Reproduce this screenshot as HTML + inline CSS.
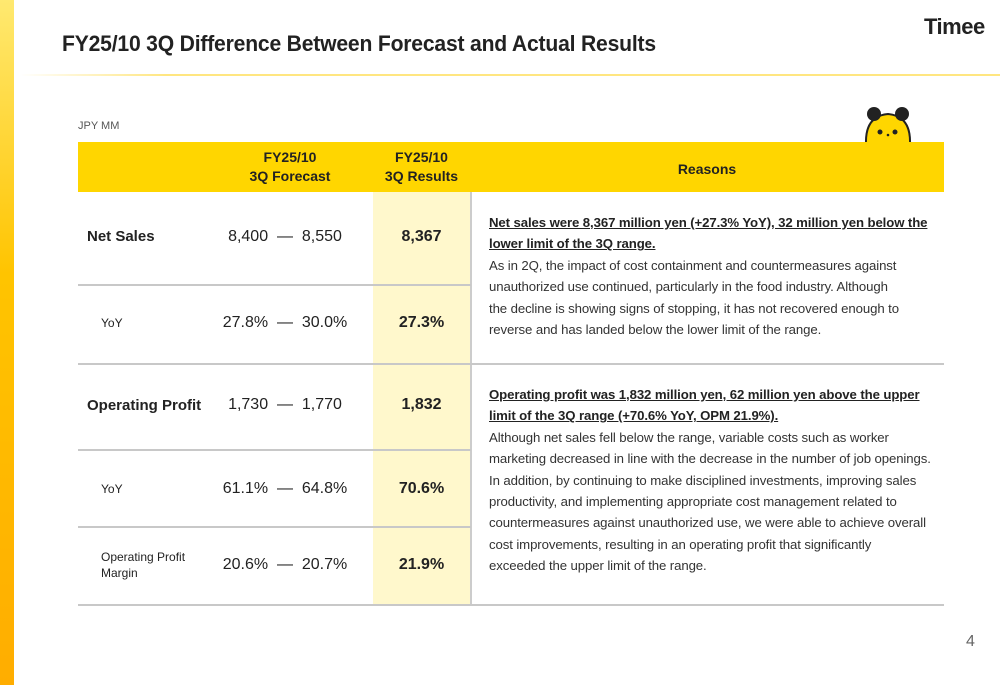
<!DOCTYPE html>
<html><head><meta charset="utf-8">
<style>
*{margin:0;padding:0;box-sizing:border-box}
body{width:1000px;height:685px;overflow:hidden;background:#fff;font-family:"Liberation Sans","DejaVu Sans",sans-serif;color:#222;position:relative}
.abs{position:absolute}
.stripe{left:0;top:0;width:14px;height:685px;background:linear-gradient(#ffe970,#ffc400 40%,#ffad00)}
.title{left:62px;top:31px;font-size:22px;font-weight:bold;color:#222;letter-spacing:-0.2px;white-space:nowrap;transform:scaleX(0.96);transform-origin:left}
.logo{left:924px;top:14px;font-size:22px;font-weight:bold;letter-spacing:-0.5px}
.rule{left:20px;top:74px;width:980px;height:2px;background:linear-gradient(90deg,#fff,#ffe680 15%,#ffe680)}
.unit{left:78px;top:120px;font-size:11px;color:#555}
.head{left:78px;top:142px;width:866px;height:50px;background:#ffd600}
.hc{font-size:14px;font-weight:bold;text-align:center;line-height:19px;top:148px}
.ycol{left:373px;top:192px;width:97px;height:412px;background:#fff8cc}
.vline{left:470px;top:192px;width:1.5px;height:412px;background:#ccc}
.hl{height:1.5px;background:#c8c8c8}
.lab{font-size:15px;font-weight:bold;left:87px}
.sub{font-size:12px;left:101px}
.rng{font-size:16px;left:200px;width:170px;text-align:center;white-space:pre}
.res{font-size:16px;left:373px;width:97px;text-align:center;font-weight:bold}
.rs{left:489px;font-size:13.2px;line-height:21.4px;color:#333;white-space:nowrap;letter-spacing:-0.1px}
.rs u{font-weight:bold;color:#222}
.pg{left:966px;top:633px;font-size:16px;color:#666}
</style></head><body>
<div class="abs stripe"></div>
<div class="abs title">FY25/10 3Q Difference Between Forecast and Actual Results</div>
<div class="abs logo">Timee</div>
<div class="abs rule"></div>
<div class="abs unit">JPY MM</div>
<svg class="abs" style="left:862px;top:104px" width="54" height="40">
<path d="M4 40 Q3 12 26 10 Q49 12 48 40 Z" fill="#ffd600" stroke="#222" stroke-width="2"/>
<circle cx="12" cy="10" r="7" fill="#222"/><circle cx="40" cy="10" r="7" fill="#222"/>
<circle cx="18" cy="28" r="2.5" fill="#222"/><circle cx="33" cy="28" r="2.5" fill="#222"/><circle cx="26" cy="31" r="1.3" fill="#222"/>
</svg>
<div class="abs head"></div>
<div class="abs hc" style="left:230px;width:120px">FY25/10<br>3Q Forecast</div>
<div class="abs hc" style="left:373px;width:97px">FY25/10<br>3Q Results</div>
<div class="abs hc" style="left:470px;width:474px;top:160px">Reasons</div>
<div class="abs ycol"></div>
<div class="abs vline"></div>
<div class="abs hl" style="left:78px;top:284px;width:393px"></div>
<div class="abs hl" style="left:78px;top:363px;width:866px"></div>
<div class="abs hl" style="left:78px;top:449px;width:393px"></div>
<div class="abs hl" style="left:78px;top:526px;width:393px"></div>
<div class="abs hl" style="left:78px;top:604px;width:866px"></div>

<div class="abs lab" style="top:228px">Net Sales</div>
<div class="abs rng" style="top:228px">8,400  —  8,550</div>
<div class="abs res" style="top:228px">8,367</div>
<div class="abs sub" style="top:316px">YoY</div>
<div class="abs rng" style="top:314px">27.8%  —  30.0%</div>
<div class="abs res" style="top:314px">27.3%</div>
<div class="abs lab" style="top:397px">Operating Profit</div>
<div class="abs rng" style="top:396px">1,730  —  1,770</div>
<div class="abs res" style="top:396px">1,832</div>
<div class="abs sub" style="top:482px">YoY</div>
<div class="abs rng" style="top:480px">61.1%  —  64.8%</div>
<div class="abs res" style="top:480px">70.6%</div>
<div class="abs sub" style="top:549px;line-height:16px">Operating Profit<br>Margin</div>
<div class="abs rng" style="top:556px">20.6%  —  20.7%</div>
<div class="abs res" style="top:556px">21.9%</div>

<div class="abs rs" style="top:212px"><u>Net sales were 8,367 million yen (+27.3% YoY), 32 million yen below the<br>lower limit of the 3Q range.</u><br>As in 2Q, the impact of cost containment and countermeasures against<br>unauthorized use continued, particularly in the food industry. Although<br>the decline is showing signs of stopping, it has not recovered enough to<br>reverse and has landed below the lower limit of the range.</div>
<div class="abs rs" style="top:384px"><u>Operating profit was 1,832 million yen, 62 million yen above the upper<br>limit of the 3Q range (+70.6% YoY, OPM 21.9%).</u><br>Although net sales fell below the range, variable costs such as worker<br>marketing decreased in line with the decrease in the number of job openings.<br>In addition, by continuing to make disciplined investments, improving sales<br>productivity, and implementing appropriate cost management related to<br>countermeasures against unauthorized use, we were able to achieve overall<br>cost improvements, resulting in an operating profit that significantly<br>exceeded the upper limit of the range.</div>
<div class="abs pg">4</div>
</body></html>
